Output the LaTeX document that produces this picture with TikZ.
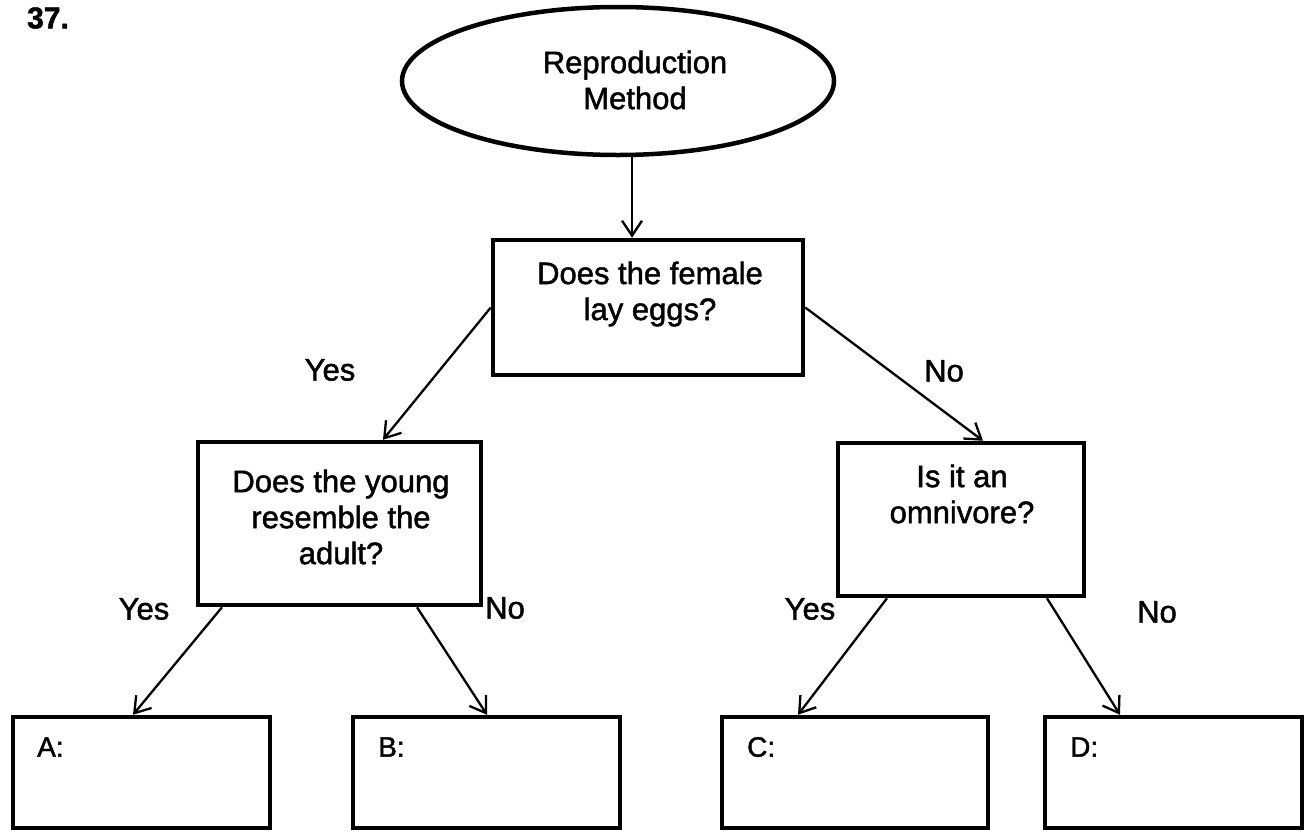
\documentclass[tikz,border=0pt]{standalone}
\usepackage{fontspec}
\setmainfont{Liberation Sans}[FakeBold=1.5]
\usetikzlibrary{arrows.meta,shapes.geometric}
\begin{document}
\begin{tikzpicture}[x=1pt,y=-1pt,
  qbox/.style={draw=black,line width=4.5pt,rectangle,inner sep=0pt},
  qtext/.style={align=center,font=\fontsize{31}{36}\selectfont,inner sep=0pt},
  lbl/.style={font=\fontsize{31}{36}\selectfont,inner sep=0pt},
  ansl/.style={font=\fontsize{28}{32}\selectfont,inner sep=0pt,anchor=west},
  arr/.style={draw=black,line width=2.3pt,-{Straight Barb[length=15pt,width=20pt,line width=2.3pt]}}
]
\useasboundingbox (0,0) rectangle (1314,831);
\node[font=\bfseries\fontsize{30}{34}\selectfont,inner sep=0pt,anchor=west] (num) at (27,18) {37.};

\node[draw=black,line width=4.5pt,ellipse,minimum width=432pt,minimum height=148pt,inner sep=0pt] (ell) at (618,81) {};
\node[qtext] (ellT) at (635,80) {Reproduction\\Method};

\node[qbox,minimum width=310pt,minimum height=135pt] (female) at (648,307.5) {};
\node[qtext] (femaleT) at (650,294) {Does the female\\lay eggs?};

\node[qbox,minimum width=283pt,minimum height=163pt] (young) at (339.5,523.5) {};
\node[qtext] (youngT) at (341,517) {Does the young\\resemble the\\adult?};

\node[qbox,minimum width=246pt,minimum height=153pt] (omni) at (961,519.5) {};
\node[qtext] (omniT) at (962,494) {Is it an\\omnivore?};

\node[qbox,minimum width=257pt,minimum height=111pt] (A) at (141.5,772.5) {};
\node[qbox,minimum width=267pt,minimum height=111pt] (B) at (486.5,772.5) {};
\node[qbox,minimum width=266pt,minimum height=111pt] (C) at (855,772.5) {};
\node[qbox,minimum width=257pt,minimum height=111pt] (D) at (1173.5,772.5) {};
\node[ansl] (AT) at (37,747) {A:};
\node[ansl] (BT) at (378,747) {B:};
\node[ansl] (CT) at (747,747) {C:};
\node[ansl] (DT) at (1070,747) {D:};

\draw[arr] ([xshift=14pt]ell.south) -- ([xshift=-16pt]female.north);
\draw[arr] (female.west) -- ([xshift=43.5pt]young.north);
\draw[arr] (female.east) -- ([xshift=22pt]omni.north);
\draw[arr] ([xshift=-117.5pt]young.south) -- ([xshift=-8.5pt]A.north);
\draw[arr] ([xshift=77.5pt]young.south) -- ([xshift=0.5pt]B.north);
\draw[arr] ([xshift=-74pt]omni.south) -- ([xshift=-57pt]C.north);
\draw[arr] ([xshift=86pt]omni.south) -- ([xshift=-53.5pt]D.north);

\node[lbl] (yes1) at (330,370) {Yes};
\node[lbl] (no1) at (944,371) {No};
\node[lbl] (yes2) at (144,609) {Yes};
\node[lbl] (no2) at (505,608) {No};
\node[lbl] (yes3) at (810,609) {Yes};
\node[lbl] (no3) at (1157,612) {No};
\end{tikzpicture}
\end{document}
